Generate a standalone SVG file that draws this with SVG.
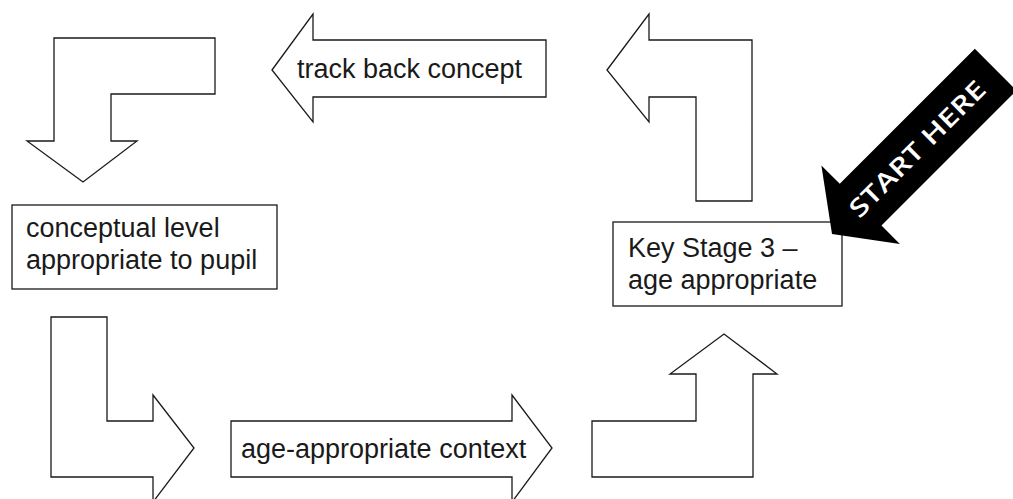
<svg xmlns="http://www.w3.org/2000/svg" width="1013" height="499" viewBox="0 0 1013 499">
  <style>
    .shape { fill: #ffffff; stroke: #1a1a1a; stroke-width: 1.3; stroke-linejoin: miter; }
    .lbl { font-family: "Liberation Sans", Arial, Helvetica, sans-serif; font-size: 27px; fill: #1a1a1a; }
    .start { font-family: "Open Sans", "DejaVu Sans", sans-serif; font-size: 25px; font-weight: 600; fill: #ffffff; }
  </style>
  <rect x="0" y="0" width="1013" height="499" fill="#ffffff"/>

  <g id="connectors">
    <g id="arrow-down-left">
      <polygon class="shape" points="54,38 215,38 215,94 111,94 111,141 137,141 83,182 27,141 54,141"/>
    </g>
    <g id="arrow-track-back">
      <polygon class="shape" points="272,70 313,14 313,40 546,40 546,97 313,97 313,122"/>
      <text class="lbl" x="297" y="78">track back concept</text>
    </g>
    <g id="arrow-up-left">
      <polygon class="shape" points="607,70 649,14 649,40 752,40 752,201 696,201 696,97 649,97 649,122"/>
    </g>
    <g id="arrow-l-right">
      <polygon class="shape" points="51,317 107,317 107,421 153,421 153,395 194,448 153,502 153,477 51,477"/>
    </g>
    <g id="arrow-age-context">
      <polygon class="shape" points="231,421 512,421 512,395 552,448 512,502 512,477 231,477"/>
      <text class="lbl" x="241" y="458">age-appropriate context</text>
    </g>
    <g id="arrow-up">
      <polygon class="shape" points="592,477 592,421 696,421 696,374 670,374 724,334 777,374 753,374 753,477"/>
    </g>
  </g>

  <g id="node-conceptual">
    <rect class="shape" x="12" y="205" width="265" height="84"/>
    <text class="lbl" x="26" y="237">conceptual level</text>
    <text class="lbl" x="26" y="269">appropriate to pupil</text>
  </g>

  <g id="node-ks3">
    <rect class="shape" x="613" y="222" width="229" height="84"/>
    <text class="lbl" x="628" y="257">Key Stage 3 –</text>
    <text class="lbl" x="628" y="289">age appropriate</text>
  </g>

  <g id="node-start-here" transform="translate(832,234) rotate(-45)">
    <polygon fill="#000000" points="0,0 41,-56 41,-30 232,-30 232,29 41,29 41,55"/>
    <text class="start" x="30" y="9" textLength="181" lengthAdjust="spacingAndGlyphs">START HERE</text>
  </g>
</svg>
